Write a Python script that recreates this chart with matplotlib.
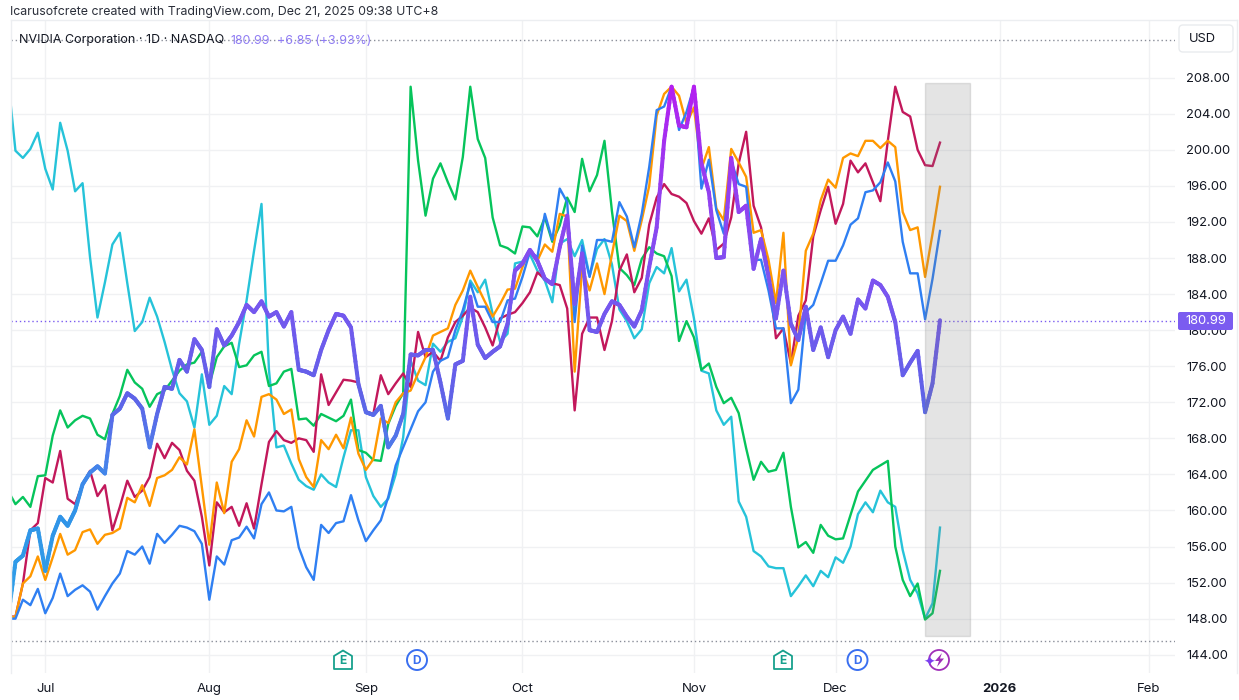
import numpy as np
import matplotlib
matplotlib.use("Agg")
import matplotlib.pyplot as plt
from matplotlib.collections import LineCollection
from matplotlib.colors import LinearSegmentedColormap
from matplotlib.patches import Circle, FancyBboxPatch, Polygon, Rectangle

plt.rcParams["font.family"] = ["Inter", "DejaVu Sans"]

# series, one value per trading day
cyan = [208,199.9,199.1,200.1,201.9,197.9,195.6,203,199.9,195.4,
        196.3,188.1,181.4,185.3,189.5,190.8,185.2,179.9,180.9,183.6,
        181.5,178.7,175.6,173,172.1,169.2,175.1,169.5,170.5,173.8,
        172.9,178.5,183.3,188.8,194,175.6,167,167.2,165.2,163.4,
        162.7,162.3,164,163.1,162.6,165.9,168.9,168.9,163.7,161.6,
        160.4,161.3,164,168.1,176.6,174.4,173.9,178.5,177.6,178.7,
        179.1,181.5,185.5,184.2,185.6,181.8,178.7,179.6,187.4,187.6,
        188.4,186.6,185.5,183.1,189.6,190.1,188.2,190,186,189,
        190.1,187.3,182.3,181,179.1,180.1,185.2,187,186.3,189.1,
        184.3,185.6,181.3,175.5,175.2,171.1,169.5,170.4,161,159.3,
        155.5,154.9,153.8,153.6,153.6,150.5,151.6,152.8,151.6,153.3,
        152.6,154.8,154.2,156,159.6,160.9,159.8,162.2,160.9,160.4,
        155.6,152.3,150.8,148,149.7,158.1]
green = [162.2,160.7,161.5,160.4,163.8,163.9,168.3,171.1,169.2,170,
         170.5,170.2,168.4,167.9,170.7,172.7,175.6,174.2,173.5,171.5,
         172.9,173.3,174.4,175.5,176.2,176.4,177.6,173.9,177,178.2,
         178.6,175.9,176.1,177.2,177.6,173.8,174.1,175.4,175.7,170.1,
         170.2,169.4,170.7,170.3,169.9,170.5,172.3,166.7,166.4,165.6,
         165.5,169.6,171.6,173,207,198.8,192.7,196.8,198.5,196.4,
         194.5,199.2,207,201.2,199.1,192.5,189.4,189.1,188.5,191.5,
         191.4,190.4,192.5,189.8,191.6,194.7,193.1,199,195.4,197.2,
         201,193.2,186.9,186.1,185,187.9,189.2,188.5,188.2,186,
         178.8,181,179.2,175.6,176.3,173.7,171.9,172.5,170.8,166.9,
         163.4,165.4,164.3,164.5,166.4,160.4,155.9,156.5,155.3,158.4,
         157.2,156.8,156.9,159.5,162.1,163.3,164.5,165,165.5,156,
         152.3,150.5,151.9,147.9,148.6,153.3]
crimson = [148.3,148.2,151.9,157.8,158.6,163.6,163.1,166.6,161.3,160.7,
           162.9,164.4,161.6,162.8,157.8,160.4,163.3,161.5,162.2,163.7,
           167.4,165.8,167.5,166.7,164.4,163.3,159.3,153.9,160.9,159.8,
           160.4,158.3,160.8,158,162.9,167.6,168.8,167.8,167.5,168,
           167.8,166.5,175.1,171.7,173.1,174.5,174.4,174.2,171,170.7,
           175,172.9,174.1,175.2,173.7,179.8,177,177.6,176.6,179.2,
           180.9,181.6,182.5,182,180.3,178.3,181.3,181.7,182,183,
           184.2,186.4,185.7,185.2,185,182.4,171.1,179.6,181.4,181.4,
           177.8,181,186.6,188.4,184.2,185.8,191.7,194.7,196.2,195.1,
           194.8,194.1,192.1,190.7,192.4,188.9,189.6,192.5,198.5,202,
           193.8,191.4,186.5,179.1,180.2,176.3,181.6,183.3,190.4,193.3,
           195.9,191.8,194,198.8,197.5,198.5,196.4,194.3,201,207,
           204.2,203.7,200,198.3,198.2,200.8]
orange = [148.2,148.2,151.9,152.7,154.9,152.3,154.8,157.4,155.1,155.6,
          157.6,157.9,156.3,157.3,157.5,158,161.4,160.9,162.8,160.5,
          163.6,163.9,164.5,165.9,165.1,169,162.6,156.2,163.1,159.7,
          165.4,166.8,170,168.2,172.6,172.9,172.3,170.7,171.2,165.7,
          163.7,162.6,167.8,166.8,168.4,166.9,170.3,166.3,164.5,165.7,
          170.2,169.7,172,173,173.3,175.2,177,179.4,179.8,180.2,
          182.8,184.4,186.6,184.8,183.1,181.5,182.9,184.5,184.6,187,
          188.9,187.7,189.5,188.7,192.9,192.6,175.4,186.9,184.4,187.4,
          184,188.4,192.7,192.1,188.8,192.2,196,203.8,206.2,207,
          206,202.9,204.7,197.9,200.3,193.5,192.2,200.1,198.6,197,
          190.8,191.1,187.8,183,190.8,176.1,179.2,188.8,190.7,194.4,
          196.7,195.8,199.1,199.6,199.3,201,201,200.2,201,200.3,
          193.1,191.1,191.4,185.9,190.7,195.9]
blue = [148,148,150.1,149.5,151.3,148.6,150.3,153,150.5,151.2,
        151.7,151,149,150.5,151.9,153,155.5,155.1,156,154.1,
        157.4,156.4,157.3,158.3,158.1,157.7,156.3,150.1,154.9,154,
        156.7,157,158.2,156.9,160.7,162,160,159.9,160.4,155.9,
        153.7,152.3,158.4,157.5,158.6,158.8,161.7,158.9,156.6,157.8,
        158.9,161.5,165,167,169,171,172,175.4,176.6,177,
        180,182.2,185.2,182.6,182.6,180.9,180.9,183.3,183.5,185.9,
        188.7,188.1,192.9,190,195.7,194.2,180.9,189.4,185.9,190,
        190,189.8,194.2,192.6,189.2,192.9,198.1,204.4,204.8,207,
        202.2,204.2,207,195.7,198.9,193.3,190.7,198.8,196.2,195.9,
        187.8,187.8,184.4,180.2,180.2,171.9,173.4,182,182.8,185.2,
        187.7,187.7,189.4,191.7,192.4,195.3,195.5,196.4,198.6,196.5,
        189.8,186.3,186.3,181.2,185.7,191]
nvda = [148,154.3,155,157.8,158,153.3,157.2,159.3,158.3,160,
        162.9,164.2,164.9,164.1,170.6,171.3,173,172.4,171.3,167,
        170.7,173.7,173.5,176.7,175.4,179,177.8,173.7,180.1,178.3,
        179.4,180.9,182.8,182,183.2,181.5,182,180.4,182,175.6,
        175.4,175,177.8,180,181.8,181.6,180.3,174,170.9,170.6,
        171.6,167,168.3,170.7,177.3,177.2,177.8,177.8,174.2,170.2,
        176.2,176.6,183.7,178.4,176.9,177.6,178.2,180.7,186.6,187.4,
        188.9,187.7,185.7,185.1,189.2,192.7,182.9,188.5,180,179.8,
        181.8,183.2,182.8,181.5,180.4,182.2,187,191.4,201,207,
        202.7,202.5,207,198.5,195.3,188,188.1,199.1,193.1,193.8,
        186.8,190.1,185.9,181.3,186.6,180.7,178.9,182.6,177.8,180.3,
        177,180,181.5,179.6,183.4,182.4,185.5,185,183.7,180.9,
        175,176.4,177.7,170.9,174.1,181.1]

month_pos = [5, 27, 48, 69, 92, 111, 133, 153]
month_labels = ["Jul", "Aug", "Sep", "Oct", "Nov", "Dec", "2026", "Feb"]
price_ticks = list(range(144, 209, 4))
last_price = 180.99
range_low = 145.5

W, H = 1239, 700
GRID = "#f0f1f3"
TEXT = "#131722"
PURPLE = "#7b5cf0"

# price <-> pixel scale of the pane
def px_to_x(px):
    return (px - 8) / 7.456
def px_to_price(py):
    return 208 - (py - 77.7) / 9.016

L, R, T, B = 10.5, 1175, 20, 673
fig = plt.figure(figsize=(W / 100, H / 100), dpi=100)
ax = fig.add_axes([L / W, 1 - B / H, (R - L) / W, (B - T) / H])
ax.set_xlim(px_to_x(L), px_to_x(R))
ax.set_ylim(px_to_price(B), px_to_price(T))
for s in ax.spines.values():
    s.set_visible(False)

ax.set_xticks(month_pos)
ax.set_xticklabels(month_labels, fontsize=9.5, color=TEXT)
ax.get_xticklabels()[6].set_fontweight("bold")
ax.set_yticks(price_ticks)
ax.set_yticklabels([f"{p:.2f}" for p in price_ticks], fontsize=9.3, color=TEXT)
ax.yaxis.tick_right()
ax.tick_params(axis="x", length=0, pad=7.5)
ax.tick_params(axis="y", length=0, pad=8)
ax.grid(True, color=GRID, lw=1)
ax.set_axisbelow(True)

x = np.arange(len(nvda))
for vals, col in [(cyan, "#26c3d9"), (green, "#06c45b"), (crimson, "#c2185b"),
                  (orange, "#ff9800"), (blue, "#2f7ff2")]:
    ax.plot(x, vals, color=col, lw=1.7, solid_joinstyle="round", zorder=3)

# thick line: its colour follows the price, blue low down, magenta at the top
cmap = LinearSegmentedColormap.from_list("nv", [(0, "#2ea2e8"), (0.22, "#3192e8"), (0.30, "#4a80ea"), (0.42, "#6062e8"),
                                                (0.62, "#7a55f0"), (0.80, "#9440f0"), (1, "#b41ff0")])
xs = np.concatenate([np.linspace(x[i], x[i + 1], 10, endpoint=False) for i in range(len(x) - 1)] + [[x[-1]]])
ys = np.interp(xs, x, nvda)
pts = np.column_stack([xs, ys]).reshape(-1, 1, 2)
segs = np.concatenate([pts[:-1], pts[1:]], axis=1)
lc = LineCollection(segs, cmap=cmap, linewidths=2.9, capstyle="round", zorder=4)
lc.set_array((ys[:-1] + ys[1:]) / 2)
lc.set_clim(148, 207)
ax.add_collection(lc)

# dotted range and last price lines
ax.axhline(last_price, color=PURPLE, lw=1, ls=(0, (1, 2)), zorder=2)
ax.axhline(range_low, color="#8a8e99", lw=1, ls=(0, (1, 2)), zorder=2)
ax.axhline(px_to_price(40), color="#8a8e99", lw=1, ls=(0, (1, 2)), zorder=2)

# overlay in pixel coordinates for shading, badges and header
ov = fig.add_axes([0, 0, 1, 1], facecolor="none")
ov.set_xlim(0, W)
ov.set_ylim(H, 0)
ov.axis("off")

ov.add_patch(Rectangle((925, 82.5), 44.5, 553, fc="#7c7c7c", ec="#7c7c7c", alpha=0.2, lw=1))

for xs_, ys_ in [((10.5, 1237), (20, 20)), ((10.5, 10.5), (20, 673)), ((1237, 1237), (20, 673))]:
    ov.plot(xs_, ys_, color="#eceef1", lw=1)

ov.text(10, 11.5, "Icarusofcrete created with TradingView.com, Dec 21, 2025 09:38 UTC+8",
        fontsize=8.9, color="#2a2e39", va="center")
ov.text(19, 40.5, "NVIDIA Corporation · 1D · NASDAQ", fontsize=9, color=TEXT, va="center")
ov.text(230, 40.5, "180.99", fontsize=8.9, color="#8f7cf3", va="center")
ov.text(277, 40.5, "+6.85 (+3.93%)", fontsize=8.9, color="#8f7cf3", va="center")

ov.add_patch(FancyBboxPatch((1179, 25), 54, 27, boxstyle="round,pad=0,rounding_size=4",
                            fc="white", ec="#e9ebee", lw=1))
ov.text(1189, 39, "USD", fontsize=9.3, color=TEXT, va="center")

ov.add_patch(FancyBboxPatch((1178, 312), 55, 18, boxstyle="round,pad=0,rounding_size=2",
                            fc=PURPLE, ec="none"))
ov.text(1205.5, 321, "180.99", fontsize=9.3, color="white", va="center", ha="center")

# earnings and dividend badges
TEAL = "#17a08c"
for cx in (343, 783):
    ov.add_patch(Polygon([(cx - 9, 669), (cx - 9, 656), (cx, 650.5), (cx + 9, 656), (cx + 9, 669)],
                         closed=True, fc="white", ec=TEAL, lw=1.3, joinstyle="round"))
    ov.text(cx, 660.5, "E", fontsize=8.6, color=TEAL, ha="center", va="center", fontweight="bold")
for cx in (417, 857.5):
    ov.add_patch(Circle((cx, 660), 10, fc="white", ec="#3a6ff0", lw=1.4))
    ov.text(cx, 660.5, "D", fontsize=8.6, color="#3a6ff0", ha="center", va="center", fontweight="bold")
ov.add_patch(Circle((939, 660), 10, fc="white", ec="#a02fb8", lw=1.3))
ov.add_patch(Polygon([(942, 653), (935, 661), (939, 661), (937, 667), (944, 658.5), (940, 658.5)],
                     closed=True, fc="#a02fb8", ec="none"))
ov.text(929, 663, "\u2726", fontsize=10, color="#7a3ff0", ha="center", va="center", family="DejaVu Sans")

fig.savefig("out.png", dpi=100, facecolor="white")
